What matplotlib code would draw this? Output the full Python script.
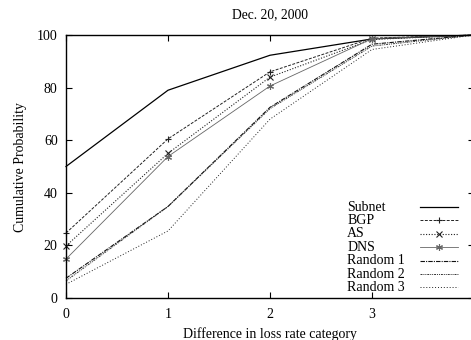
import matplotlib.pyplot as plt
from matplotlib.lines import Line2D

plt.rcParams['font.family'] = ['Liberation Serif', 'DejaVu Serif']
plt.rcParams['font.size'] = 10

diff = [0, 1, 2, 3, 4]
subnet = [50, 79, 92.3, 98.5, 100]
bgp = [24.7, 60.5, 86, 98.8, 100]
as_ = [19.8, 55, 84, 98.3, 100]
dns = [14.8, 53.8, 80.6, 98.6, 100]
rand1 = [7.5, 34.8, 72.5, 96.5, 100]
rand2 = [6.5, 34.8, 72.0, 95.8, 100]
rand3 = [5.2, 25.5, 68.0, 94.5, 100]

names = ['Subnet', 'BGP', 'AS', 'DNS', 'Random 1', 'Random 2', 'Random 3']
series = [subnet, bgp, as_, dns, rand1, rand2, rand3]

styles = [
    dict(color='black', lw=0.9, ls='-', marker=None),
    dict(color='#222222', lw=0.7, ls=(0, (3, 1.5)), marker='+'),
    dict(color='#222222', lw=0.8, ls=(0, (1, 1.5)), marker='x'),
    dict(color='#666666', lw=0.6, ls='-', marker=(6, 2, 0)),
    dict(color='#111111', lw=0.8, ls=(0, (4, 1, 1, 1)), marker=None),
    dict(color='#333333', lw=0.7, ls=(0, (2, 1, 1, 1, 1, 1)), marker=None),
    dict(color='#222222', lw=0.7, ls=(0, (1, 2)), marker=None),
]

fig = plt.figure(figsize=(4.71, 3.40), dpi=100)
ax = fig.add_axes([66 / 471, 42 / 340, 408 / 471, 263 / 340])

for name, ys, st in zip(names, series, styles):
    ax.plot(diff, ys, color=st['color'], lw=st['lw'], ls=st['ls'],
            marker=st['marker'], ms=5, mew=0.8, clip_on=False)

ax.set_xlim(0, 4)
ax.set_ylim(0, 100)
ax.set_xticks([0, 1, 2, 3, 4])
ax.set_xticklabels(['0', '1', '2', '3', ''])
ax.set_yticks([0, 20, 40, 60, 80, 100])
ax.tick_params(direction='in', length=4, width=0.8, top=True, right=True)
ax.tick_params(axis='x', pad=7)
ax.tick_params(axis='y', pad=6)
for sp in ax.spines.values():
    sp.set_linewidth(1.0)

ax.set_title('Dec. 20, 2000', pad=12, fontsize=9.8)
ax.set_xlabel('Difference in loss rate category', labelpad=5)
ax.set_ylabel('Cumulative Probability', labelpad=7)

# gnuplot-style key: left-aligned labels, samples to the right
row0, step = 0.346, 0.051
for i, (name, st) in enumerate(zip(names, styles)):
    y = row0 - i * step
    ax.text(0.689, y, name, transform=ax.transAxes, va='center', ha='left')
    ax.add_line(Line2D([0.868, 0.961], [y, y], transform=ax.transAxes,
                       color=st['color'], lw=st['lw'], ls=st['ls']))
    if st['marker'] is not None:
        ax.add_line(Line2D([0.914], [y], transform=ax.transAxes,
                           color=st['color'], marker=st['marker'], ms=5,
                           mew=0.8, ls='none'))

fig.savefig('out.png', dpi=100)
